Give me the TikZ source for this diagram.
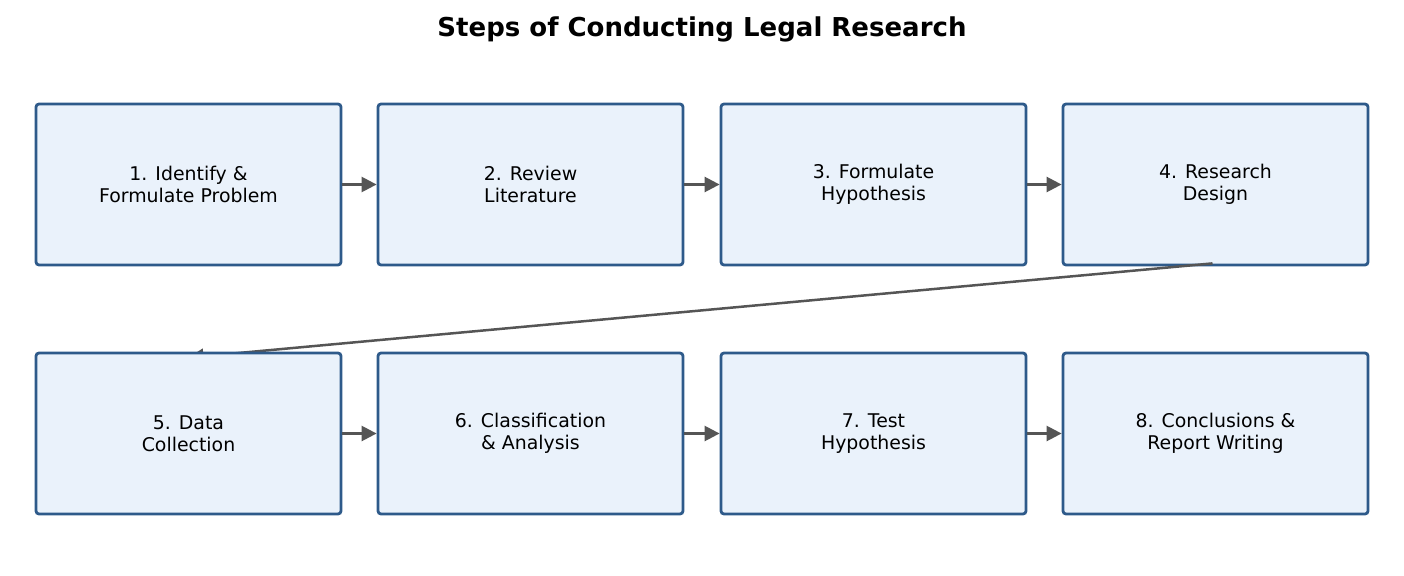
\documentclass[tikz,border=0pt]{standalone}
\usepackage{fontspec}
\setmainfont{DejaVu Sans}
\usetikzlibrary{arrows.meta,calc}
\definecolor{boxedge}{HTML}{2E5A8A}
\definecolor{boxfill}{HTML}{EAF2FB}
\definecolor{arrgray}{HTML}{555555}
\tikzset{
  stepbox/.style={draw=boxedge, fill=boxfill, line width=2.8pt, rounded corners=3pt,
    minimum width=305pt, minimum height=161pt, align=center, inner sep=0pt,
    font=\fontsize{18.9pt}{22pt}\selectfont},
  flow/.style={draw=arrgray, line width=2.5pt, -{Triangle[length=15pt,width=15pt]}},
}
\begin{document}
\begin{tikzpicture}[x=1pt,y=-1pt]
\useasboundingbox (0,0) rectangle (1404,575);
\node[font=\fontsize{26pt}{30pt}\selectfont\bfseries] (title) at (702,29) {Steps of Conducting Legal Research};
\node[stepbox] (n1) at (188.5,184.5) {1. Identify \&\\Formulate Problem};
\node[stepbox] (n2) at (530.5,184.5) {2. Review\\Literature};
\node[stepbox] (n3) at (873.5,184.5) {3. Formulate\\Hypothesis};
\node[stepbox] (n4) at (1215.5,184.5) {4. Research\\Design};
\draw[flow] (n1.east) -- (n2.west);
\draw[flow] (n2.east) -- (n3.west);
\draw[flow] (n3.east) -- (n4.west);
\coordinate (d4) at ($(n4.south)+(-3,-3)$);
\node[stepbox, draw=none, fill=none] (ghost5) at (188.5,433.5) {};
\coordinate (d5) at ($(ghost5.north)+(0,6)$);
\draw[flow] (d4) -- (d5);
\node[stepbox] (n5) at (188.5,433.5) {5. Data\\Collection};
\node[stepbox] (n6) at (530.5,433.5) {6. Classification\\\& Analysis};
\node[stepbox] (n7) at (873.5,433.5) {7. Test\\Hypothesis};
\node[stepbox] (n8) at (1215.5,433.5) {8. Conclusions \&\\Report Writing};
\draw[flow] (n5.east) -- (n6.west);
\draw[flow] (n6.east) -- (n7.west);
\draw[flow] (n7.east) -- (n8.west);
\end{tikzpicture}
\end{document}
